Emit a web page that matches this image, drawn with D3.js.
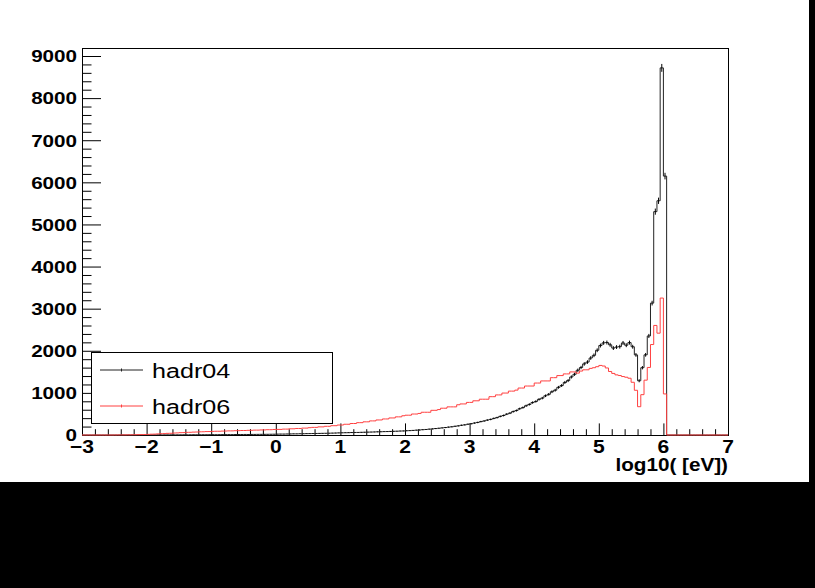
<!DOCTYPE html>
<html>
<head>
<meta charset="utf-8">
<script src="https://cdn.jsdelivr.net/npm/d3@7"></script>
<style>
  html, body { margin: 0; padding: 0; background: #000; }
  svg { display: block; }
</style>
</head>
<body>
<svg id="chart" width="815" height="588"></svg>
<script>
// histogram binning: 200 bins from -3 to 7
const xMin = -3, xMax = 7, binWidth = 0.05;

// hadr04 (black), bin contents
const hadr04 = [
  0,0,0,0,0,0,0,0,0,0,
  0,0,1,0,1,1,0,1,2,1,
  2,1,2,3,2,3,3,4,3,4,
  4,5,4,5,6,5,6,7,6,7,
  8,7,8,9,9,10,9,11,11,12,
  13,12,14,14,15,16,16,17,18,19,
  21,22,22,24,25,27,27,29,30,32,
  33,35,36,38,40,41,43,45,47,50,
  52,54,55,58,60,61,64,66,68,70,
  72,75,77,80,82,85,88,90,94,96,
  101,104,109,115,119,126,131,139,145,153,
  160,169,177,187,195,207,217,231,241,256,
  268,284,298,318,333,354,370,394,413,442,
  463,495,519,556,581,624,651,694,726,770,
  796,846,876,931,966,1027,1064,1132,1174,1248,
  1292,1378,1442,1538,1602,1688,1732,1828,1892,2012,
  2124,2188,2196,2142,2064,2088,2098,2186,2132,2194,
  2096,1902,1288,1598,1904,2352,3132,5304,5562,8718,
  6148,0,0,0,0,0,0,0,0,0,
  0,0,0,0,0,0,0,0,0,0
];

// hadr06 (red), bin contents
const hadr06 = [
  0,0,0,0,0,0,0,0,0,0,
  1,2,2,3,4,5,7,8,10,12,
  15,19,21,26,31,33,39,41,47,50,
  55,57,63,64,69,71,76,77,81,82,
  86,89,89,93,94,98,98,102,103,107,
  107,111,112,116,116,120,121,126,126,131,
  133,133,140,140,147,147,155,155,164,164,
  174,181,181,193,193,206,206,221,221,237,
  237,255,255,273,273,293,293,313,313,335,
  335,357,357,381,381,405,405,431,431,457,
  470,470,498,498,512,540,540,540,586,586,
  604,636,636,668,668,668,718,738,738,774,
  774,812,812,850,850,850,910,910,952,952,
  996,996,1042,1042,1066,1115,1115,1163,1163,1163,
  1234,1234,1284,1284,1284,1361,1361,1411,1411,1451,
  1451,1498,1498,1470,1518,1548,1548,1582,1598,1622,
  1652,1638,1592,1508,1462,1428,1412,1388,1372,1348,
  1252,1062,672,958,1302,1604,2148,2602,2418,3252,
  975,0,0,0,0,0,0,0,0,0,
  0,0,0,0,0,0,0,0,0,0
];

const xTicks = [-3, -2, -1, 0, 1, 2, 3, 4, 5, 6, 7];
const yTicks = [0, 1000, 2000, 3000, 4000, 5000, 6000, 7000, 8000, 9000];
const legendNames = ["hadr04", "hadr06"];
const xTitle = "log10( [eV])";

const font = "'Liberation Sans', Arial, Helvetica, sans-serif";
const svg = d3.select("#chart");

// canvas
svg.append("rect").attr("width", 809).attr("height", 482).attr("fill", "#fff");

const x = d3.scaleLinear().domain([xMin, xMax]).range([82, 728]);
const y = d3.scaleLinear().domain([0, 9190]).range([435, 48]);

// minor tick values (0.2 on x, 200 on y)
const xMinor = d3.range(xMin, xMax + 1e-9, 0.2).filter(v => Math.abs(v - Math.round(v)) > 1e-6);
const yMinor = d3.range(0, 9190, 200).filter(v => v % 1000 !== 0);

// frame
svg.append("rect")
  .attr("x", 82.5).attr("y", 48.5)
  .attr("width", 646).attr("height", 387)
  .attr("fill", "none").attr("stroke", "#000");

// ticks
const noDomain = g => g.select(".domain").remove();
svg.append("g").attr("transform", "translate(82,0)").attr("color", "#000")
  .call(d3.axisRight(y).tickValues(yTicks).tickSize(19).tickFormat(""))
  .call(noDomain);
svg.append("g").attr("transform", "translate(82,0)").attr("color", "#000")
  .call(d3.axisRight(y).tickValues(yMinor).tickSize(9.5).tickFormat(""))
  .call(noDomain);
svg.append("g").attr("transform", "translate(0,435)").attr("color", "#000")
  .call(d3.axisTop(x).tickValues(xTicks).tickSize(11.6).tickFormat(""))
  .call(noDomain);
svg.append("g").attr("transform", "translate(0,435)").attr("color", "#000")
  .call(d3.axisTop(x).tickValues(xMinor).tickSize(5.8).tickFormat(""))
  .call(noDomain);

// tick labels
svg.append("g").selectAll("text").data(yTicks).join("text")
  .attr("transform", d => `translate(77,${y(d) + 6.3}) scale(1.25,1)`)
  .attr("text-anchor", "end")
  .attr("font-family", font).attr("font-weight", "bold").attr("font-size", "16.5px")
  .text(d => d);

svg.append("g").selectAll("text").data(xTicks).join("text")
  .attr("transform", d => `translate(${x(d)},452.5) scale(1.14,1)`)
  .attr("text-anchor", "middle")
  .attr("font-family", font).attr("font-weight", "bold").attr("font-size", "18.5px")
  .text(d => (d < 0 ? "\u2212" + Math.abs(d) : d));

// axis title
svg.append("text")
  .attr("transform", "translate(728,470.5) scale(1.15,1)")
  .attr("text-anchor", "end")
  .attr("font-family", font).attr("font-weight", "bold").attr("font-size", "18px")
  .text(xTitle);

// histogram step outline
function stepPoints(values) {
  const pts = [];
  values.forEach((v, i) => {
    const lo = xMin + i * binWidth;
    pts.push([lo, v], [lo + binWidth, v]);
  });
  return pts;
}
const line = d3.line().x(d => x(d[0])).y(d => y(d[1]));

svg.append("path")
  .attr("d", line(stepPoints(hadr04)))
  .attr("fill", "none").attr("stroke", "#222").attr("stroke-width", 1);

// error bars for hadr04
svg.append("g").selectAll("line").data(hadr04.map((v, i) => ({ v, i })).filter(d => d.v > 0)).join("line")
  .attr("x1", d => x(xMin + (d.i + 0.5) * binWidth))
  .attr("x2", d => x(xMin + (d.i + 0.5) * binWidth))
  .attr("y1", d => y(Math.max(0, d.v - Math.sqrt(d.v))))
  .attr("y2", d => y(d.v + Math.sqrt(d.v)))
  .attr("stroke", "#000").attr("stroke-width", 1);

svg.append("path")
  .attr("d", line(stepPoints(hadr06)))
  .attr("fill", "none").attr("stroke", "#ff4040").attr("stroke-width", 1);

// legend
const legend = svg.append("g");
legend.append("rect")
  .attr("x", 91.5).attr("y", 352.5).attr("width", 241).attr("height", 71)
  .attr("fill", "#fff").attr("stroke", "#000");

const legendColors = ["#222", "#ff4040"];
const legendY = [370, 406];
legendNames.forEach((name, k) => {
  legend.append("line")
    .attr("x1", 100).attr("x2", 143).attr("y1", legendY[k]).attr("y2", legendY[k])
    .attr("stroke", legendColors[k]);
  legend.append("line")
    .attr("x1", 121.5).attr("x2", 121.5).attr("y1", legendY[k] - 1.5).attr("y2", legendY[k] + 1.5)
    .attr("stroke", legendColors[k]);
  legend.append("text")
    .attr("transform", `translate(152,${legendY[k] + 8.3}) scale(1.22,1)`)
    .attr("font-family", font).attr("font-size", "20.6px")
    .text(name);
});
</script>
</body>
</html>
